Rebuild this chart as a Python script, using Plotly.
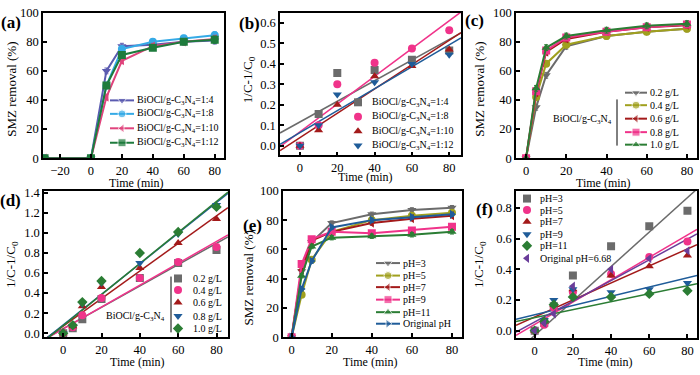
import plotly.graph_objects as go

# ---------------- DATA ----------------
# (a) removal vs time, different ratios
t_a = [-30, 0, 10, 20, 40, 60, 80]
a_names = ["BiOCl/g-C<sub>3</sub>N<sub>4</sub>=1:4", "BiOCl/g-C<sub>3</sub>N<sub>4</sub>=1:8",
           "BiOCl/g-C<sub>3</sub>N<sub>4</sub>=1:10", "BiOCl/g-C<sub>3</sub>N<sub>4</sub>=1:12"]
a_r14 = [0, 0, 60, 77, 78, 80, 81]
a_r18 = [0, 0, 50, 75, 80, 82.5, 84.5]
a_r110 = [0, 0, 42, 67, 77, 80, 82]
a_r112 = [0, 0, 50, 71, 76, 80, 81.5]
a_err = [0.5, 0.5, 2, 2, 2, 2, 2.5]

# (b) kinetics, ratios
t_b = [0, 10, 20, 40, 60, 80]
b_r14 = [0.0, 0.155, 0.355, 0.37, 0.42, 0.465]
b_r18 = [0.0, 0.10, 0.30, 0.405, 0.475, 0.565]
b_r110 = [0.0, 0.075, 0.20, 0.34, 0.39, 0.47]
b_r112 = [0.0, 0.10, 0.25, 0.31, 0.40, 0.445]
b_slope = [0.00505, 0.00679, 0.00595, 0.00537]
b_icpt = [0.116, 0.068, 0.0395, 0.0637]

# (c) removal vs time, dosage
t_c = [0, 5, 10, 20, 40, 60, 80]
c_names = ["0.2 g/L", "0.4 g/L", "0.6 g/L", "0.8 g/L", "1.0 g/L"]
c_d02 = [0, 35, 57, 77, 84, 87, 89]
c_d04 = [0, 42, 65, 78, 84, 87, 89]
c_d06 = [0, 45, 73, 82, 87, 90, 91.5]
c_d08 = [0, 46, 74, 83, 87, 90, 92]
c_d10 = [0, 48, 76, 84, 88, 91, 92.5]
c_err = [0.5, 2, 2, 2, 2, 2, 2]

# (d) kinetics, dosage
t_d = [0, 5, 10, 20, 40, 60, 80]
d_d02 = [0.0, 0.05, 0.14, 0.34, 0.55, 0.70, 0.83]
d_d04 = [0.0, 0.06, 0.18, 0.35, 0.55, 0.71, 0.86]
d_d06 = [0.0, 0.07, 0.27, 0.46, 0.65, 0.90, 1.14]
d_d08 = [0.0, 0.07, 0.29, 0.50, 0.70, 0.99, 1.28]
d_d10 = [0.0, 0.08, 0.31, 0.52, 0.80, 1.01, 1.26]
d_slope = [0.01065, 0.0109, 0.01376, 0.01527, 0.0155]
d_icpt = [0.045, 0.043, 0.070, 0.082, 0.075]

# (e) removal vs time, pH
t_e = [0, 5, 10, 20, 40, 60, 80]
e_names = ["pH=3", "pH=5", "pH=7", "pH=9", "pH=11", "Original pH"]
e_ph3 = [0, 45, 65, 78, 84, 87, 88.5]
e_ph5 = [0, 29, 53, 72, 80, 83, 85]
e_ph7 = [0, 46, 66, 72, 78, 81, 83]
e_ph9 = [0, 50, 67, 72, 71, 73, 75.5]
e_ph11 = [0, 42, 62, 68, 69, 70, 72]
e_orig = [0, 33, 52, 75, 80, 82, 84]
e_err = [0.5, 1.5, 1.5, 1.5, 1.5, 1.5, 1.5]

# (f) kinetics, pH
t_f = [0, 5, 10, 20, 40, 60, 80]
f_names = ["pH=3", "pH=5", "pH=7", "pH=9", "pH=11", "Original pH=6.68"]
f_ph3 = [0.0, 0.05, 0.16, 0.36, 0.55, 0.68, 0.78]
f_ph5 = [0.0, 0.04, 0.15, 0.25, 0.37, 0.48, 0.58]
f_ph7 = [0.0, 0.06, 0.17, 0.27, 0.36, 0.42, 0.49]
f_ph9 = [0.0, 0.07, 0.20, 0.27, 0.25, 0.27, 0.31]
f_ph11 = [0.0, 0.06, 0.17, 0.22, 0.22, 0.24, 0.26]
f_orig = [0.0, 0.05, 0.11, 0.29, 0.40, 0.47, 0.52]
f_slope = [0.0112, 0.00726, 0.00553, 0.0030, 0.00258, 0.00674]
f_icpt = [-0.03, 0.042, 0.090, 0.105, 0.086, 0.057]

# ---------------- STYLE ----------------
W, H = 700, 375
FONT = "Liberation Serif"
LEGF = 10
GRAY = "#6b6b6b"; PINK = "#f0338a"; DRED = "#a31a1a"; BLUE = "#1f5c99"
GREEN = "#2b7d34"; OLIVE = "#a0a01e"; PURPLE = "#6a3d9a"
SLATE = "#5b5bb0"; SKY = "#35aae6"; PINKA = "#e0437c"; GREENA = "#1e7b3c"

# panel pixel boxes (left, right, top, bottom) and ranges
geo = {
    1: (43, 224, 6, 157, [-31, 86], [0, 100], 20, 20, None),
    2: (280, 461, 6, 154, [-10.7, 86.3], [-0.047, 0.65], 20, 0.1, ".1f"),
    3: (516, 697, 6, 157, [-5, 85], [0, 100], 20, 20, None),
    4: (44, 228, 191, 343, [-10, 86], [-0.04, 1.42], 20, 0.2, ".1f"),
    5: (283, 462, 191, 343, [-4.3, 85], [0, 100], 20, 20, None),
    6: (516, 697, 191, 344, [-9.8, 85], [-0.048, 0.91], 20, 0.2, ".1f"),
}

fig = go.Figure()


def ax(i):
    return ("x" if i == 1 else f"x{i}"), ("y" if i == 1 else f"y{i}")


def line_series(i, t, ys, names, colors, symbols, err):
    xa, ya = ax(i)
    for y, n, c, s in zip(ys, names, colors, symbols):
        fig.add_trace(go.Scatter(
            x=t, y=y, mode="lines+markers", name=n, xaxis=xa, yaxis=ya, showlegend=False,
            line=dict(color=c, width=2), marker=dict(color=c, symbol=s, size=8),
            error_y=dict(type="data", array=err, color=c, thickness=1, width=2)))


def fit_series(i, t, ys, names, colors, symbols, slopes, icpts):
    xa, ya = ax(i)
    xr = geo[i][4]
    for y, n, c, s, k, b in zip(ys, names, colors, symbols, slopes, icpts):
        fig.add_trace(go.Scatter(
            x=xr, y=[b + k * xv for xv in xr], mode="lines", xaxis=xa, yaxis=ya,
            showlegend=False, line=dict(color=c, width=1.5), hoverinfo="skip"))
    for y, n, c, s in zip(ys, names, colors, symbols):
        fig.add_trace(go.Scatter(
            x=t, y=y, mode="markers", name=n, xaxis=xa, yaxis=ya, showlegend=False,
            marker=dict(color=c, symbol=s, size=8)))


line_series(1, t_a, [a_r14, a_r18, a_r110, a_r112], a_names,
            [SLATE, SKY, PINKA, GREENA], ["triangle-down", "circle", "triangle-left", "square"], a_err)
fit_series(2, t_b, [b_r14, b_r18, b_r110, b_r112], a_names,
           [GRAY, PINK, DRED, BLUE], ["square", "circle", "triangle-up", "triangle-down"], b_slope, b_icpt)
line_series(3, t_c, [c_d02, c_d04, c_d06, c_d08, c_d10], c_names,
            [GRAY, OLIVE, DRED, PINK, GREEN],
            ["triangle-down", "circle", "triangle-left", "square", "triangle-up"], c_err)
fit_series(4, t_d, [d_d02, d_d04, d_d06, d_d08, d_d10], c_names,
           [GRAY, PINK, DRED, BLUE, GREEN],
           ["square", "circle", "triangle-up", "triangle-down", "diamond"], d_slope, d_icpt)
line_series(5, t_e, [e_ph3, e_ph5, e_ph7, e_ph9, e_ph11, e_orig], e_names,
            [GRAY, OLIVE, DRED, PINK, GREEN, BLUE],
            ["triangle-down", "circle", "triangle-left", "square", "triangle-up", "triangle-right"], e_err)
fit_series(6, t_f, [f_ph3, f_ph5, f_ph7, f_ph9, f_ph11, f_orig], f_names,
           [GRAY, PINK, DRED, BLUE, GREEN, PURPLE],
           ["square", "circle", "triangle-up", "triangle-down", "diamond", "triangle-left"], f_slope, f_icpt)

layout = dict(width=W, height=H, margin=dict(l=0, r=0, t=0, b=0), autosize=False,
              paper_bgcolor="white", plot_bgcolor="rgba(0,0,0,0)",
              font=dict(family=FONT, color="black"), showlegend=False)

for i, (l, r, tp, bt, xr, yr, dxt, dyt, fmt) in geo.items():
    xk = "xaxis" if i == 1 else f"xaxis{i}"
    yk = "yaxis" if i == 1 else f"yaxis{i}"
    xa, ya = ax(i)
    common = dict(showline=True, linecolor="black", linewidth=1.5, mirror=True,
                  ticks="inside", ticklen=4, tickwidth=1.5, tickcolor="black",
                  showgrid=False, zeroline=False, tickfont=dict(family=FONT, size=12.5, color="black"))
    layout[xk] = dict(domain=[l / W, r / W], range=xr, anchor=ya, tick0=0, dtick=dxt, **common)
    layout[yk] = dict(domain=[1 - bt / H, 1 - tp / H], range=yr, anchor=xa, tick0=0, dtick=dyt,
                      **common)
    if fmt:
        layout[yk]["tickformat"] = fmt

# pixel overlay axes for legends and labels
layout["xaxis7"] = dict(domain=[0, 1], range=[0, W], visible=False, anchor="y7", fixedrange=True)
layout["yaxis7"] = dict(domain=[0, 1], range=[H, 0], visible=False, anchor="x7", fixedrange=True)
fig.update_layout(**layout)

annotations = []
shapes = []


def legend(entries, xm, xt, rows, with_line, half=12):
    for (name, c, s), yv in zip(entries, rows):
        if with_line:
            fig.add_trace(go.Scatter(x=[xm - half, xm, xm + half], y=[yv, yv, yv], mode="lines+markers",
                                     xaxis="x7", yaxis="y7", showlegend=False, hoverinfo="skip",
                                     line=dict(color=c, width=2),
                                     marker=dict(color=c, symbol=s, size=[0, 8, 0])))
        else:
            fig.add_trace(go.Scatter(x=[xm], y=[yv], mode="markers", xaxis="x7", yaxis="y7",
                                     showlegend=False, hoverinfo="skip",
                                     marker=dict(color=c, symbol=s, size=8)))
        annotations.append(dict(x=xt, y=yv, xref="x7", yref="y7", text=name, showarrow=False,
                                xanchor="left", yanchor="middle", font=dict(size=LEGF, family=FONT)))


legend(list(zip(a_names, [SLATE, SKY, PINKA, GREENA], ["triangle-down", "circle", "triangle-left", "square"])),
       122, 135, [97, 111, 126, 141], True)
legend(list(zip(a_names, [GRAY, PINK, DRED, BLUE], ["square", "circle", "triangle-up", "triangle-down"])),
       358, 370, [99, 114, 129, 144], False)
legend(list(zip(c_names, [GRAY, OLIVE, DRED, PINK, GREEN],
                ["triangle-down", "circle", "triangle-left", "square", "triangle-up"])),
       636, 648, [89, 102, 116, 130, 143], True, half=11)
legend(list(zip(c_names, [GRAY, PINK, DRED, BLUE, GREEN],
                ["square", "circle", "triangle-up", "triangle-down", "diamond"])),
       178, 191, [282, 294, 307, 321, 334], False)
legend(list(zip(e_names, [GRAY, OLIVE, DRED, PINK, GREEN, BLUE],
                ["triangle-down", "circle", "triangle-left", "square", "triangle-up", "triangle-right"])),
       388, 401, [266, 279, 291, 304, 317, 329], True, half=12)
legend(list(zip(f_names, [GRAY, PINK, DRED, BLUE, GREEN, PURPLE],
                ["square", "circle", "triangle-up", "triangle-down", "diamond", "triangle-left"])),
       527, 538, [199, 211, 223, 236, 248, 261], False)

# group brackets and labels in (c) and (d)
shapes.append(dict(type="line", xref="x7", yref="y7", x0=617, x1=617, y0=96, y1=144,
                   line=dict(color="black", width=1)))
shapes.append(dict(type="line", xref="x7", yref="y7", x0=171, x1=171, y0=280, y1=338,
                   line=dict(color="black", width=1)))
annotations.append(dict(x=582, y=117, xref="x7", yref="y7", text="BiOCl/g-C<sub>3</sub>N<sub>4</sub>",
                        showarrow=False, font=dict(size=LEGF, family=FONT)))
annotations.append(dict(x=135, y=322, xref="x7", yref="y7", text="BiOCl/g-C<sub>3</sub>N<sub>4</sub>",
                        showarrow=False, font=dict(size=LEGF, family=FONT)))

# panel letters
for txt, x, y in [("(a)", 11, 16), ("(b)", 249, 17), ("(c)", 474, 14),
                  ("(d)", 10, 201), ("(e)", 252, 227), ("(f)", 484, 210)]:
    annotations.append(dict(x=x, y=y, xref="x7", yref="y7", text=f"<b>{txt}</b>", showarrow=False,
                            font=dict(size=17, family=FONT)))

# axis titles
for x, y in [(136, 183), (365, 177), (603, 183), (137, 369), (370, 369), (605, 369)]:
    annotations.append(dict(x=x, y=y, xref="x7", yref="y7", text="Time (min)", showarrow=False,
                            font=dict(size=12, family=FONT)))
for txt, x, y in [("SMZ removal (%)", 12, 86), ("1/C-1/C<sub>0</sub>", 248, 76),
                  ("SMZ removal (%)", 480, 86), ("1/C-1/C<sub>0</sub>", 12, 268),
                  ("SMZ removal (%)", 248, 282), ("1/C-1/C<sub>0</sub>", 480, 268)]:
    annotations.append(dict(x=x, y=y, xref="x7", yref="y7", text=txt, showarrow=False, textangle=-90,
                            font=dict(size=13, family=FONT)))

fig.update_layout(annotations=annotations, shapes=shapes)
fig.write_html("out.html", config={"displayModeBar": False},
               post_script="document.body.style.margin='0';document.body.style.overflow='hidden';")
